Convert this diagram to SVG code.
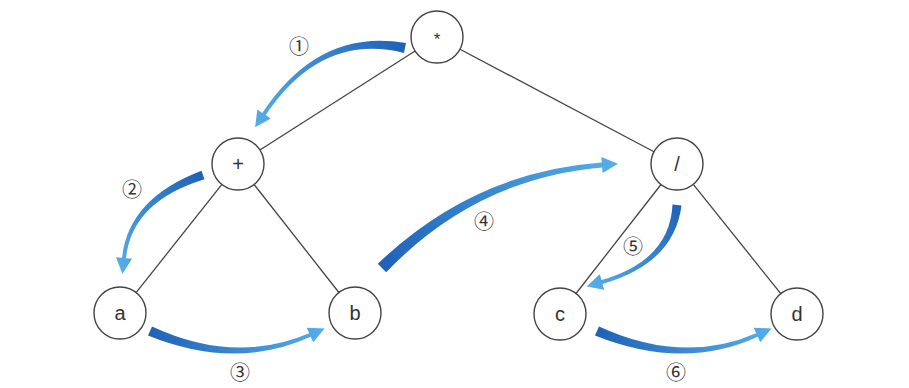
<svg xmlns="http://www.w3.org/2000/svg" width="909" height="388" viewBox="0 0 909 388">
<defs>
<style>
.node circle{fill:#fff;stroke:#444;stroke-width:1.4}
.node text{font-family:"Liberation Sans",Arial,sans-serif;font-size:20px;fill:#333;text-anchor:middle}
.edges line{stroke:#444;stroke-width:1.3}
.num{font-family:"Noto Sans CJK SC","DejaVu Sans",serif;font-size:20px;fill:#333;text-anchor:middle}
</style>
<linearGradient id="g1" gradientUnits="userSpaceOnUse" x1="405" y1="48" x2="256" y2="126"><stop offset="0" stop-color="#1f62b8"/><stop offset="1" stop-color="#55aee8"/></linearGradient>
<linearGradient id="g2" gradientUnits="userSpaceOnUse" x1="203" y1="175" x2="123" y2="272"><stop offset="0" stop-color="#1f62b8"/><stop offset="1" stop-color="#55aee8"/></linearGradient>
<linearGradient id="g3" gradientUnits="userSpaceOnUse" x1="150" y1="331" x2="323" y2="329"><stop offset="0" stop-color="#1f62b8"/><stop offset="1" stop-color="#55aee8"/></linearGradient>
<linearGradient id="g4" gradientUnits="userSpaceOnUse" x1="382" y1="268" x2="617" y2="164"><stop offset="0" stop-color="#1f62b8"/><stop offset="1" stop-color="#55aee8"/></linearGradient>
<linearGradient id="g5" gradientUnits="userSpaceOnUse" x1="677" y1="205" x2="589" y2="286"><stop offset="0" stop-color="#1f62b8"/><stop offset="1" stop-color="#55aee8"/></linearGradient>
<linearGradient id="g6" gradientUnits="userSpaceOnUse" x1="597" y1="331" x2="770" y2="329"><stop offset="0" stop-color="#1f62b8"/><stop offset="1" stop-color="#55aee8"/></linearGradient>
</defs>
<rect width="909" height="388" fill="#fff"/>
<g id="connectors" class="edges">
<line x1="415.1" y1="51.0" x2="259.9" y2="150.0"/>
<line x1="460.0" y1="49.2" x2="654.0" y2="151.8"/>
<line x1="221.9" y1="184.4" x2="136.1" y2="292.6"/>
<line x1="254.1" y1="184.5" x2="338.9" y2="292.5"/>
<line x1="661.0" y1="184.5" x2="576.0" y2="293.5"/>
<line x1="693.3" y1="184.3" x2="780.8" y2="293.7"/>
</g>
<g id="traversal-arrows">
<path fill="url(#g1)" d="M406 43.1 Q319 27.5 262.3 112.9 L257.3 109.6 L255.1 127.3 L270.7 118.4 L265.7 115.1 Q321 32.5 404 52.9 Z"/>
<path fill="url(#g2)" d="M201.5 170.7 Q128.2 198.5 122 257.8 L116 257.2 L122.4 273.9 L132 258.8 L126 258.2 Q131.8 201.5 204.5 179.3 Z"/>
<path fill="url(#g3)" d="M148 335.6 Q235 371 310.8 336.8 L313.2 342.3 L324.7 328.6 L306.8 327.7 L309.2 333.2 Q235 365 152 326.4 Z"/>
<path fill="url(#g4)" d="M386.2 272.2 Q476.5 178.2 602.2 167.5 L602.6 173 L618 163.8 L601.4 157 L601.8 162.5 Q473.5 171.8 377.8 263.8 Z"/>
<path fill="url(#g5)" d="M672.5 204.6 Q670 260.4 601.5 280.1 L599.8 274.3 L586.6 286.4 L604.2 289.7 L602.5 283.9 Q674 263.6 681.5 205.4 Z"/>
<path fill="url(#g6)" d="M595 335.6 Q683 371 757.8 336.8 L760.3 342.3 L771.6 328.5 L753.7 327.7 L756.2 333.2 Q683 365 599 326.4 Z"/>
</g>
<g id="step-labels">
<text class="num" x="299" y="54">①</text>
<text class="num" x="132" y="197">②</text>
<text class="num" x="240" y="380">③</text>
<text class="num" x="484" y="229">④</text>
<text class="num" x="633" y="254">⑤</text>
<text class="num" x="676" y="380">⑥</text>
</g>
<g id="node-mul" class="node"><circle cx="437" cy="37" r="26"/><text x="437" y="45" style="font-size:17px">*</text></g>
<g id="node-plus" class="node"><circle cx="238" cy="164" r="26"/><text x="238" y="171">+</text></g>
<g id="node-div" class="node"><circle cx="677" cy="164" r="26"/><text x="677" y="171">/</text></g>
<g id="node-a" class="node"><circle cx="120" cy="313" r="26"/><text x="120" y="320">a</text></g>
<g id="node-b" class="node"><circle cx="355" cy="313" r="26"/><text x="355" y="320">b</text></g>
<g id="node-c" class="node"><circle cx="560" cy="314" r="26"/><text x="560" y="321">c</text></g>
<g id="node-d" class="node"><circle cx="797" cy="314" r="26"/><text x="797" y="321">d</text></g>
</svg>
